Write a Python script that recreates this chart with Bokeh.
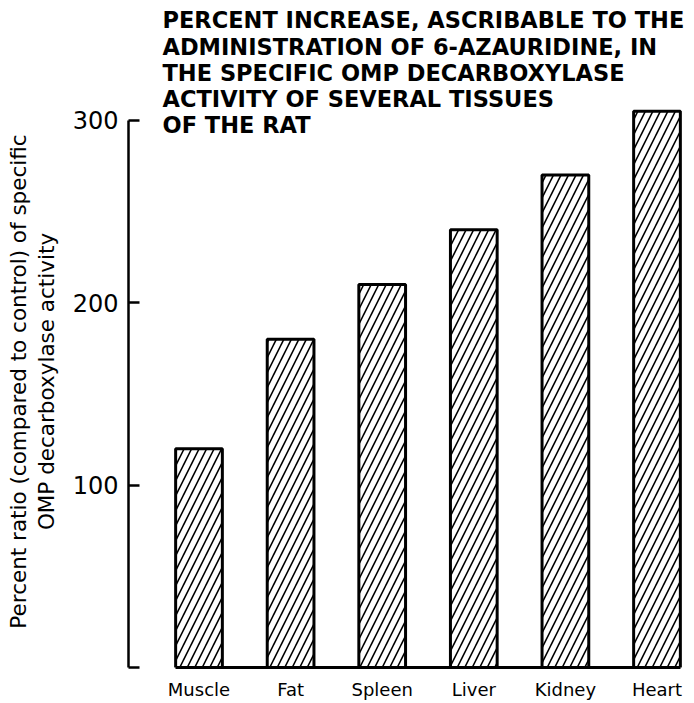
import math
from bokeh.plotting import figure
from bokeh.layouts import row
from bokeh.models import Range1d, FixedTicker, Label, ColumnDataSource
from bokeh.core.properties import value
from bokeh.embed import file_html
from bokeh.resources import INLINE

# ---- data ----
tissues = ["Muscle", "Fat", "Spleen", "Liver", "Kidney", "Heart"]
percent_ratio = [120, 180, 210, 240, 270, 305]
y_ticks = [0, 100, 200, 300]
title_lines = [
    "PERCENT INCREASE, ASCRIBABLE TO THE",
    "ADMINISTRATION OF 6-AZAURIDINE, IN",
    "THE SPECIFIC OMP DECARBOXYLASE",
    "ACTIVITY OF SEVERAL TISSUES",
    "OF THE RAT",
]
ylabel_lines = [
    "Percent ratio (compared to control) of specific",
    "OMP decarboxylase activity",
]

BAR_W = 0.51
W, H = 692, 702
LW = 66                          # width of the side panel holding the y label
LEFT, RIGHT = 128, 686           # frame edges on the page (px)
TOP, BOTTOM = 0, 668
PX_X = 91.6                      # px per category
X0 = -(198.5 - LEFT) / PX_X      # first bar centre at px 198.5
X1 = X0 + (RIGHT - LEFT) / PX_X
PX_Y = (BOTTOM - 120) / 300.0    # 300 sits at px 120
Y1 = (BOTTOM - TOP) / PX_Y

# ---- side panel with the rotated y-axis title ----
lab = figure(width=LW, height=H, output_backend="svg", toolbar_location=None,
             x_range=Range1d(0, LW), y_range=Range1d(0, H),
             x_axis_location=None, y_axis_location=None,
             min_border=0)
lab.outline_line_color = None
lab.grid.visible = False
lab.text(x=[18, 46], y=[H - 401, H - 401], text=ylabel_lines,
         angle=math.pi / 2, text_font=value("DejaVu Sans"),
         text_font_size="21.5px", text_color="black",
         text_align="center", text_baseline="middle")

# ---- main chart ----
xs = list(range(len(tissues)))
src = ColumnDataSource(dict(x=xs, top=percent_ratio))

p = figure(width=W - LW, height=H, output_backend="svg", toolbar_location=None,
           x_range=Range1d(X0, X1), y_range=Range1d(0, Y1),
           min_border_left=LEFT - LW, min_border_right=W - RIGHT,
           min_border_top=TOP, min_border_bottom=H - BOTTOM)
p.outline_line_color = None
p.background_fill_color = "white"
p.border_fill_color = "white"
p.grid.visible = False

p.vbar(x="x", top="top", bottom=0, width=BAR_W, source=src,
       fill_color="white", line_color="black", line_width=3,
       hatch_pattern="/", hatch_color="black", hatch_scale=15, hatch_weight=1.6)

# y axis
ya = p.yaxis[0]
ya.ticker = FixedTicker(ticks=y_ticks)
ya.bounds = (min(y_ticks), max(y_ticks))
ya.major_label_overrides = {0: ""}
ya.major_tick_in = 11
ya.major_tick_out = 0
ya.minor_tick_line_color = None
ya.axis_line_width = 2.5
ya.major_tick_line_width = 2.5
ya.major_label_text_font = "DejaVu Sans"
ya.major_label_text_font_size = "24px"
ya.major_label_text_color = "black"
ya.major_label_standoff = 10

# x axis
xa = p.xaxis[0]
xa.ticker = FixedTicker(ticks=xs)
xa.major_label_overrides = {i: t for i, t in enumerate(tissues)}
xa.bounds = (xs[0] - BAR_W / 2, xs[-1] + BAR_W / 2)
xa.axis_line_width = 3
xa.major_tick_line_color = None
xa.minor_tick_line_color = None
xa.major_label_text_font = "DejaVu Sans"
xa.major_label_text_font_size = "18px"
xa.major_label_text_color = "black"
xa.major_label_standoff = 5


def px_to_x(px):
    return X0 + (px - LEFT) / PX_X


def py_to_y(py):
    return (BOTTOM - py) / PX_Y


for i, line in enumerate(title_lines):
    p.add_layout(Label(x=px_to_x(162), y=py_to_y(20 + 26.25 * i), text=line,
                       text_font="DejaVu Sans", text_font_style="bold",
                       text_font_size="22.5px", text_color="black",
                       text_align="left", text_baseline="middle"))

layout = row(lab, p, spacing=0)
open("out.html", "w").write(file_html(layout, INLINE))
